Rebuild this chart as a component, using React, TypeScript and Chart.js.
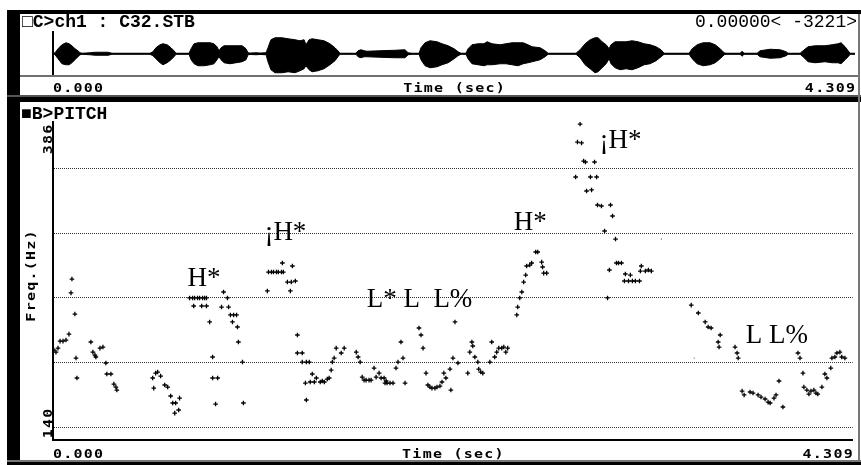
import React, { useEffect, useRef } from 'react';
import { Chart, registerables } from 'chart.js';

Chart.register(...registerables);

// ---------- data ----------
const DURATION = 4.309;
const axisTickTimes = [0, 2.1545, 4.309];
const axisTickLabels = ['0.000', 'Time (sec)', '4.309'];
const freqMin = 140;
const freqMax = 386;
const freqGrid = [150, 200, 250, 300, 350];
const freqTickLabels = ['140', '386'];
const freqTitle = 'Freq.(Hz)';
const waveHeader = '\u25A1C>ch1 : C32.STB';
const waveCursor = '0.00000< -3221>';
const pitchHeader = '\u25A0B>PITCH';

// waveform amplitude envelope (time in s, amplitude in k-units)
const waveTimes = [
  0, 0.011, 0.027, 0.048, 0.070, 0.086, 0.102, 0.118, 0.134, 0.145,
  0.156, 0.199, 0.226, 0.253, 0.296, 0.317, 0.521, 0.537, 0.553, 0.575,
  0.591, 0.613, 0.634, 0.650, 0.661, 0.731, 0.742, 0.758, 0.779, 0.811,
  0.844, 0.865, 0.881, 0.892, 0.903, 0.919, 0.951, 0.983, 1.016, 1.037,
  1.048, 1.059, 1.091, 1.112, 1.145, 1.155, 1.171, 1.193, 1.231, 1.263,
  1.300, 1.327, 1.349, 1.359, 1.376, 1.392, 1.424, 1.456, 1.488, 1.515,
  1.531, 1.542, 1.628, 1.639, 1.655, 1.671, 1.687, 1.757, 1.838, 1.891,
  1.908, 1.929, 1.967, 1.977, 1.999, 2.026, 2.063, 2.090, 2.123, 2.155,
  2.176, 2.192, 2.219, 2.230, 2.251, 2.284, 2.316, 2.332, 2.359, 2.402,
  2.434, 2.466, 2.499, 2.526, 2.552, 2.574, 2.617, 2.644, 2.660, 2.810,
  2.832, 2.859, 2.886, 2.912, 2.929, 2.950, 2.972, 2.988, 2.998, 3.020,
  3.047, 3.079, 3.111, 3.143, 3.176, 3.208, 3.240, 3.267, 3.283, 3.418,
  3.434, 3.461, 3.493, 3.530, 3.558, 3.584, 3.606, 3.616, 3.692, 3.702,
  3.713, 3.783, 3.799, 3.853, 3.907, 3.939, 3.949, 4.014, 4.030, 4.057,
  4.095, 4.148, 4.186, 4.218, 4.234, 4.256, 4.272, 4.283, 4.309,
];
const waveUpper = [
  0, 1, 5, 9, 11, 10, 8, 5, 3, 1,
  0.5, 1, 1.5, 1.5, 1.5, 0.5, 0.5, 2, 6, 9,
  10, 9, 6, 3, 0.5, 0.5, 5, 10, 11, 11,
  11, 10, 7, 3, 6, 8, 8, 8, 8, 5,
  1, 0.7, 1, 0.7, 1, 6, 14, 16, 16, 15,
  14, 13, 14, 9, 14, 15, 14, 13, 10, 6,
  3, 0.5, 0.5, 3, 4, 3, 2.5, 3, 3.5, 4,
  1, 0.5, 0.5, 6, 11, 13, 12, 10, 8, 5,
  2, 0.5, 0.5, 5, 9, 10, 10, 12, 10, 9,
  10, 11, 11, 11, 9, 7, 6, 3, 0.5, 0.5,
  4, 10, 14, 16, 16, 12, 9, 5, 9, 12,
  12, 12, 13, 12, 10, 9, 7, 4, 0.5, 0.5,
  5, 9, 11, 11, 9, 5, 1, 0.5, 0.5, 2.5,
  0.5, 0.5, 3, 4.5, 4, 2, 0.5, 0.5, 3, 7,
  8, 8, 9, 10, 11, 7, 3, 0.5, 0.5,
];
const waveLower = [
  0, 1, 5, 10, 11, 11, 9, 6, 3, 1,
  0.5, 1, 1.5, 1.5, 1.5, 0.5, 0.5, 2, 5, 9,
  11, 9, 6, 3, 0.5, 0.5, 6, 10, 12, 12,
  11, 10, 6, 3, 6, 9, 10, 9, 8, 6,
  1, 0.7, 1, 0.7, 1, 8, 16, 19, 19, 18,
  19, 17, 15, 12, 16, 18, 17, 15, 11, 7,
  3, 0.5, 0.5, 3, 4, 3, 3, 3.5, 4, 4,
  1, 0.5, 0.5, 6, 12, 14, 13, 11, 9, 5,
  2, 0.5, 0.5, 5, 10, 11, 12, 11, 11, 10,
  10, 11, 12, 10, 9, 8, 6, 3, 0.5, 0.5,
  4, 11, 15, 19, 18, 14, 10, 5, 10, 14,
  16, 15, 16, 14, 11, 10, 7, 3, 0.5, 0.5,
  5, 10, 12, 11, 9, 5, 1, 0.5, 0.5, 2.5,
  0.5, 0.5, 3, 4.5, 4, 2, 0.5, 0.5, 3, 8,
  9, 8, 9, 9, 10, 6, 3, 0.5, 0.5,
];

// pitch track (time in s, F0 in Hz)
const pitchTimes = [
  0.005, 0.016, 0.027, 0.038, 0.054, 0.070, 0.086, 0.097, 0.102, 0.118,
  0.124, 0.129, 0.204, 0.215, 0.226, 0.231, 0.253, 0.269, 0.285, 0.290,
  0.312, 0.328, 0.339, 0.344, 0.537, 0.543, 0.553, 0.564, 0.580, 0.602,
  0.618, 0.634, 0.645, 0.656, 0.661, 0.677, 0.682, 0.736, 0.752, 0.758,
  0.763, 0.779, 0.790, 0.801, 0.806, 0.817, 0.827, 0.827, 0.844, 0.860,
  0.860, 0.876, 0.887, 0.908, 0.919, 0.940, 0.946, 0.956, 0.967, 0.973,
  0.989, 0.994, 0.999, 1.021, 1.026, 1.155, 1.161, 1.177, 1.188, 1.204,
  1.214, 1.231, 1.236, 1.241, 1.263, 1.279, 1.284, 1.290, 1.306, 1.317,
  1.317, 1.343, 1.343, 1.360, 1.365, 1.365, 1.381, 1.386, 1.397, 1.408,
  1.419, 1.440, 1.451, 1.462, 1.478, 1.488, 1.499, 1.505, 1.515, 1.526,
  1.553, 1.569, 1.634, 1.644, 1.655, 1.666, 1.676, 1.687, 1.703, 1.714,
  1.730, 1.741, 1.757, 1.768, 1.784, 1.789, 1.795, 1.800, 1.816, 1.832,
  1.848, 1.859, 1.875, 1.886, 1.897, 1.972, 1.983, 1.994, 2.010, 2.020,
  2.031, 2.042, 2.058, 2.069, 2.085, 2.096, 2.106, 2.117, 2.139, 2.144,
  2.155, 2.166, 2.182, 2.235, 2.246, 2.257, 2.262, 2.273, 2.289, 2.294,
  2.305, 2.316, 2.354, 2.364, 2.380, 2.391, 2.402, 2.418, 2.429, 2.440,
  2.450, 2.499, 2.504, 2.515, 2.526, 2.536, 2.547, 2.552, 2.569, 2.579,
  2.601, 2.612, 2.633, 2.638, 2.644, 2.660, 2.816, 2.826, 2.840, 2.848,
  2.859, 2.869, 2.875, 2.896, 2.902, 2.918, 2.929, 2.934, 2.955, 2.972,
  2.988, 2.998, 3.004, 3.015, 3.031, 3.036, 3.047, 3.063, 3.079, 3.084,
  3.101, 3.111, 3.122, 3.138, 3.160, 3.165, 3.170, 3.192, 3.208, 3.224,
  3.439, 3.477, 3.514, 3.530, 3.546, 3.584, 3.589, 3.595, 3.675, 3.686,
  3.692, 3.713, 3.724, 3.756, 3.772, 3.799, 3.815, 3.837, 3.853, 3.864,
  3.885, 3.896, 3.912, 3.933, 4.014, 4.025, 4.041, 4.046, 4.062, 4.073,
  4.084, 4.100, 4.111, 4.121, 4.143, 4.159, 4.170, 4.191, 4.197, 4.213,
  4.224, 4.240, 4.250, 4.267,
];
const pitchHz = [
  209.7, 208.1, 211.2, 216.6, 216.6, 217.4, 222.0, 253.8, 264.5, 237.5,
  203.5, 188.1, 215.9, 208.1, 205.8, 204.3, 211.2, 212.0, 199.7, 191.2,
  191.2, 183.4, 181.1, 178.8, 188.1, 180.3, 191.9, 192.7, 189.6, 182.7,
  181.1, 174.2, 168.8, 161.0, 168.8, 163.4, 172.6, 249.9, 249.9, 243.7,
  249.9, 249.9, 249.9, 243.7, 249.9, 249.9, 249.9, 243.7, 231.4, 204.3,
  188.1, 168.0, 188.1, 242.9, 254.5, 249.9, 242.9, 236.8, 231.4, 236.8,
  236.8, 227.5, 215.9, 200.4, 168.8, 255.3, 269.9, 269.9, 269.9, 269.9,
  269.9, 269.9, 276.9, 269.9, 262.2, 255.3, 262.2, 274.6, 263.0, 221.3,
  207.4, 207.4, 200.4, 184.2, 200.4, 171.1, 200.4, 185.0, 191.2, 185.0,
  188.1, 185.0, 185.8, 185.0, 187.3, 188.1, 194.2, 200.4, 203.5, 211.2,
  207.4, 211.2, 208.1, 204.3, 200.4, 188.8, 186.5, 186.5, 186.5, 186.5,
  195.8, 188.8, 191.9, 188.1, 188.1, 184.2, 185.8, 184.2, 184.2, 184.2,
  195.8, 200.4, 215.9, 203.5, 184.2, 226.7, 221.3, 211.2, 191.9, 182.7,
  181.1, 180.3, 180.3, 181.1, 181.9, 185.0, 191.9, 188.1, 195.0, 178.8,
  203.5, 231.4, 199.7, 191.9, 208.1, 215.9, 212.8, 204.3, 200.4, 195.0,
  192.7, 191.9, 200.4, 215.9, 204.3, 208.1, 211.2, 211.2, 212.0, 208.1,
  211.2, 236.8, 242.9, 249.9, 254.5, 262.2, 267.6, 274.6, 275.3, 276.9,
  285.4, 285.4, 277.6, 273.8, 269.1, 269.1, 343.3, 370.3, 384.2, 369.6,
  355.6, 354.9, 332.5, 343.3, 333.3, 354.9, 343.3, 321.7, 320.9, 301.6,
  249.9, 271.5, 321.7, 313.2, 295.4, 276.9, 276.9, 276.9, 263.0, 268.4,
  263.0, 267.6, 263.0, 263.0, 263.0, 270.7, 274.6, 270.7, 271.5, 270.7,
  244.4, 238.3, 231.4, 227.5, 226.7, 215.9, 212.0, 221.3, 212.0, 207.4,
  203.5, 178.0, 175.0, 177.3, 176.5, 175.0, 173.4, 171.9, 169.5, 168.8,
  172.6, 175.0, 185.8, 165.7, 207.4, 203.5, 191.9, 181.1, 178.8, 175.7,
  178.0, 178.8, 176.5, 175.7, 181.1, 191.2, 188.1, 195.8, 203.5, 204.3,
  207.4, 208.1, 204.3, 203.5,
];
const faintTimes = [3.278, 3.455];
const faintHz = [295.4, 203.5];

// ToBI tone labels
const toneLabels = ['H*', '\u00A1H*', 'L* L  L%', 'H*', '\u00A1H*', 'L L%'];
const toneTimes = [0.725, 1.139, 1.690, 2.483, 2.945, 3.733];
const toneHz = [259.1, 294.6, 243.1, 302.4, 365.4, 214.9];

// ---------- drawing helpers ----------
const MONO = 'bold 12px "DejaVu Sans Mono"';
const SX = 1.25;
const HEAD = '18px "Liberation Mono"';
const HEAD_BOLD = 'bold 18px "Liberation Mono"';

function wideText(ctx: CanvasRenderingContext2D, text: string, x: number, y: number,
  align: 'left' | 'center' | 'right', rot = 0) {
  ctx.save();
  ctx.font = MONO;
  ctx.fillStyle = '#000';
  ctx.textBaseline = 'alphabetic';
  ctx.textAlign = 'left';
  const adv = ctx.measureText('0').width + 1;
  const w = (text.length * adv - 1) * SX;
  ctx.translate(x, y);
  if (rot) ctx.rotate(rot);
  const dx = align === 'left' ? 0 : align === 'center' ? -w / 2 : -w;
  ctx.translate(dx, 0);
  ctx.scale(SX, 1);
  for (let i = 0; i < text.length; i++) ctx.fillText(text[i], i * adv, 0);
  ctx.restore();
}

function headText(ctx: CanvasRenderingContext2D, text: string, x: number, y: number,
  align: CanvasTextAlign, font: string) {
  ctx.save();
  ctx.font = font;
  ctx.fillStyle = '#000';
  ctx.textBaseline = 'alphabetic';
  ctx.textAlign = align;
  ctx.fillText(text, x, y);
  ctx.restore();
}

function drawTimeTicks(chart: any, baseline: number) {
  const xs = chart.scales.x;
  const ctx = chart.ctx;
  const n = xs.ticks.length;
  xs.ticks.forEach((t: any, i: number) => {
    const px = xs.getPixelForValue(t.value);
    const align = i === 0 ? 'left' : i === n - 1 ? 'right' : 'center';
    wideText(ctx, axisTickLabels[i], px, baseline, align as any);
  });
}

const timeAxis = (h: number) => ({
  type: 'linear' as const,
  min: 0,
  max: DURATION,
  afterBuildTicks: (s: any) => { s.ticks = axisTickTimes.map((v) => ({ value: v })); },
  afterFit: (s: any) => { s.height = h; },
  ticks: { display: false },
  grid: { display: false, drawTicks: false },
  border: { display: false },
});

export default function App() {
  const waveRef = useRef<HTMLCanvasElement>(null);
  const pitchRef = useRef<HTMLCanvasElement>(null);

  useEffect(() => {
    const waveChart = new Chart(waveRef.current!, {
      type: 'line',
      data: {
        datasets: [
          {
            data: waveTimes.map((t, i) => ({ x: t, y: waveUpper[i] })),
            borderColor: '#000', backgroundColor: '#000', borderWidth: 1,
            pointRadius: 0, fill: '+1', tension: 0,
          },
          {
            data: waveTimes.map((t, i) => ({ x: t, y: -waveLower[i] })),
            borderColor: '#000', borderWidth: 1, pointRadius: 0, fill: false, tension: 0,
          },
          {
            data: [{ x: 0, y: 0 }, { x: DURATION, y: 0 }],
            borderColor: '#000', borderWidth: 1, pointRadius: 0, fill: false,
          },
        ],
      },
      options: {
        animation: false,
        responsive: false,
        devicePixelRatio: 1,
        layout: { padding: { top: 18, right: 3, left: 0, bottom: 0 } },
        plugins: { legend: { display: false }, tooltip: { enabled: false } },
        scales: {
          x: timeAxis(21.5),
          y: {
            type: 'linear', min: -21.75, max: 21.75,
            afterFit: (s: any) => { s.width = 33; },
            ticks: { display: false },
            grid: { display: false, drawTicks: false },
            border: { display: true, color: '#000', width: 2 },
          },
        },
      },
      plugins: [{
        id: 'waveText',
        afterDraw: (chart: any) => {
          const ctx = chart.ctx;
          headText(ctx, waveHeader, 2, 13, 'left', HEAD_BOLD);
          headText(ctx, waveCursor, 837, 13, 'right', HEAD);
          drawTimeTicks(chart, 78);
        },
      }],
    } as any);

    const pitchChart = new Chart(pitchRef.current!, {
      type: 'scatter',
      data: {
        datasets: [
          {
            data: pitchTimes.map((t, i) => ({ x: t, y: pitchHz[i] })),
            pointStyle: 'cross', pointRadius: 2.3, pointBorderWidth: 1.3,
            borderColor: '#000', backgroundColor: '#000',
          },
          {
            data: faintTimes.map((t, i) => ({ x: t, y: faintHz[i] })),
            pointStyle: 'rect', pointRadius: 0.6, borderWidth: 0,
            borderColor: '#000', backgroundColor: '#000',
          },
        ],
      },
      options: {
        animation: false,
        responsive: false,
        devicePixelRatio: 1,
        layout: { padding: { top: 19.7, right: 3, left: 0, bottom: 0 } },
        plugins: { legend: { display: false }, tooltip: { enabled: false } },
        scales: {
          x: { ...timeAxis(21.7), border: { display: true, color: '#000', width: 2 } },
          y: {
            type: 'linear', min: freqMin, max: freqMax,
            afterBuildTicks: (s: any) => { s.ticks = freqGrid.map((v) => ({ value: v })); },
            afterFit: (s: any) => { s.width = 33; },
            ticks: { display: false },
            grid: { display: true, drawTicks: false, color: '#333', lineWidth: 1 },
            border: { display: true, color: '#000', width: 2, dash: [1, 1] },
          },
        },
      },
      plugins: [{
        id: 'pitchText',
        afterDraw: (chart: any) => {
          const ctx = chart.ctx;
          const ys = chart.scales.y;
          const xs = chart.scales.x;
          const a = chart.chartArea;
          headText(ctx, pitchHeader, 1, 17, 'left', HEAD_BOLD);
          // rotated frequency limits
          wideText(ctx, freqTickLabels[1], a.left - 1, ys.getPixelForValue(freqMax) + 3, 'right', -Math.PI / 2);
          wideText(ctx, freqTickLabels[0], a.left - 1, ys.getPixelForValue(freqMin) - 2, 'left', -Math.PI / 2);
          wideText(ctx, freqTitle, 15, (a.top + a.bottom) / 2 - 5, 'center', -Math.PI / 2);
          drawTimeTicks(chart, 356);
          // tone labels
          ctx.save();
          ctx.font = '27px "Liberation Serif"';
          ctx.fillStyle = '#000';
          ctx.textAlign = 'left';
          ctx.textBaseline = 'alphabetic';
          toneLabels.forEach((lab, i) => {
            ctx.fillText(lab, xs.getPixelForValue(toneTimes[i]), ys.getPixelForValue(toneHz[i]));
          });
          ctx.restore();
        },
      }],
    } as any);

    return () => { waveChart.destroy(); pitchChart.destroy(); };
  }, []);

  const box = (l: number, t: number, w: number, h: number, c: string): React.CSSProperties => ({
    position: 'absolute', left: l, top: t, width: w, height: h, background: c,
  });

  return (
    <div style={{ position: 'absolute', left: 0, top: 0, width: 861, height: 465, background: '#fff', overflow: 'hidden' }}>
      <canvas ref={waveRef} width={838} height={83} style={{ position: 'absolute', left: 20, top: 14, width: 838, height: 83 }} />
      <canvas ref={pitchRef} width={838} height={360} style={{ position: 'absolute', left: 20, top: 102, width: 838, height: 360 }} />
      <div style={box(7, 10, 13, 455, '#000')} />
      <div style={box(7, 10, 854, 4, '#000')} />
      <div style={box(20, 75, 838, 2, '#707070')} />
      <div style={box(7, 95, 854, 2, '#555')} />
      <div style={box(7, 97, 854, 5, '#000')} />
      <div style={box(7, 460, 854, 2, '#777')} />
      <div style={box(7, 462, 854, 3, '#000')} />
      <div style={box(858, 14, 2, 448, '#777')} />
    </div>
  );
}
